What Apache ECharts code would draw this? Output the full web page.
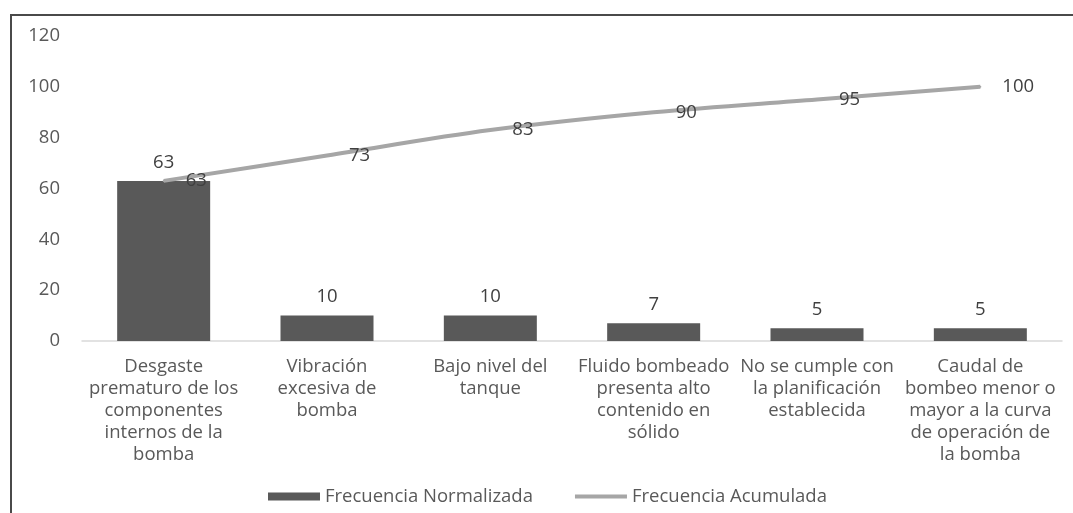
<!DOCTYPE html>
<html>
<head>
<meta charset="utf-8">
<script src="https://cdn.jsdelivr.net/npm/echarts@6/dist/echarts.min.js"></script>
<style>
  html, body { margin: 0; padding: 0; background: #fff; }
  #wrap { position: relative; width: 1073px; height: 513px; overflow: hidden; }
  #chart { width: 1073px; height: 513px; }
  #frame { position: absolute; left: 10px; top: 14px; width: 1100px; height: 600px;
           border-left: 2px solid #4a4a4a; border-top: 2px solid #4a4a4a; pointer-events: none; }
</style>
</head>
<body>
<div id="wrap">
  <div id="chart"></div>
  <div id="frame"></div>
</div>
<script>
// Causas de falla de la bomba (diagrama de Pareto)
const categories = [
  'Desgaste\nprematuro de los\ncomponentes\ninternos de la\nbomba',
  'Vibración\nexcesiva de\nbomba',
  'Bajo nivel del\ntanque',
  'Fluido bombeado\npresenta alto\ncontenido en\nsólido',
  'No se cumple con\nla planificación\nestablecida',
  'Caudal de\nbombeo menor o\nmayor a la curva\nde operación de\nla bomba'
];
const frecuenciaNormalizada = [63, 10, 10, 7, 5, 5];
const frecuenciaAcumulada = [63, 73, 83, 90, 95, 100];
const yTicks = { min: 0, max: 120, interval: 20 };

const FONT = '"Open Sans", "Liberation Sans", sans-serif';
const FS = 18.5;
const chart = echarts.init(document.getElementById('chart'));

chart.setOption({
  animation: false,
  textStyle: { fontFamily: FONT },
  grid: { left: 82, right: 11, top: 36, bottom: 172, containLabel: false },
  legend: {
    left: 263,
    top: 482,
    itemWidth: 52,
    itemHeight: 8,
    itemGap: 40,
    textStyle: { color: '#595959', fontSize: FS, fontFamily: FONT },
    data: [
      { name: 'Frecuencia Normalizada', icon: 'rect' },
      {
        name: 'Frecuencia Acumulada',
        lineStyle: { width: 4, color: '#a6a6a6' },
        itemStyle: { color: '#a6a6a6', borderWidth: 0, opacity: 0 }
      }
    ]
  },
  xAxis: {
    type: 'category',
    data: categories,
    axisLine: { show: true, lineStyle: { color: '#d9d9d9', width: 1.5 } },
    axisTick: { show: false },
    axisLabel: {
      interval: 0,
      color: '#595959',
      fontSize: FS,
      lineHeight: 22,
      margin: 15,
      fontFamily: FONT
    }
  },
  yAxis: {
    type: 'value',
    min: yTicks.min,
    max: yTicks.max,
    interval: yTicks.interval,
    axisLine: { show: false },
    axisTick: { show: false },
    splitLine: { show: false },
    axisLabel: { color: '#595959', fontSize: FS, margin: 22, fontFamily: FONT }
  },
  series: [
    {
      name: 'Frecuencia Normalizada',
      type: 'bar',
      data: frecuenciaNormalizada,
      barWidth: 93,
      itemStyle: { color: '#595959' },
      label: {
        show: true,
        position: 'top',
        distance: 9,
        color: '#404040',
        fontSize: FS,
        fontFamily: FONT
      },
      z: 2
    },
    {
      name: 'Frecuencia Acumulada',
      type: 'line',
      data: frecuenciaAcumulada,
      smooth: 0.35,
      symbol: 'circle',
      symbolSize: 2,
      showSymbol: true,
      lineStyle: { color: '#a6a6a6', width: 4 },
      itemStyle: { color: '#a6a6a6' },
      label: {
        show: true,
        position: 'right',
        distance: 21,
        offset: [0, 2.5],
        color: '#404040',
        fontSize: FS,
        fontFamily: FONT
      },
      labelLayout: { hideOverlap: false },
      z: 3
    }
  ]
});
</script>
</body>
</html>
